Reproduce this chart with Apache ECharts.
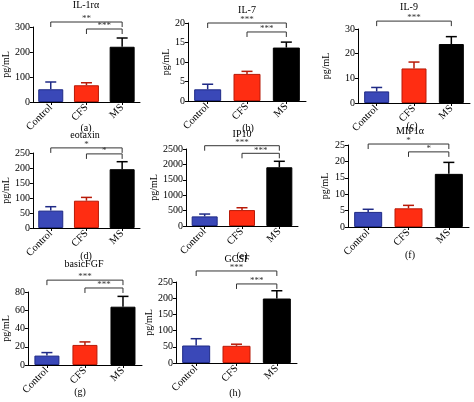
<!DOCTYPE html>
<html><head><meta charset="utf-8">
<script src="https://cdn.jsdelivr.net/npm/echarts@6/dist/echarts.min.js"></script>
<style>html,body{margin:0;padding:0;background:#fff}#c{width:474px;height:402px}</style>
</head><body><div id="c"></div>
<script>
// ---------- data ----------
const categories = ['Control', 'CFS', 'MS'];
const panelTitles = ['IL-1rα', 'IL-7', 'IL-9', 'eotaxin', 'IP10', 'MIP1α', 'basicFGF', 'GCSF'];
const panelCaptions = ['(a)', '(b)', '(c)', '(d)', '(e)', '(f)', '(g)', '(h)'];
const yAxisName = 'pg/mL';
const yMax = [300, 20, 30, 250, 2500, 25, 80, 250];
const yInterval = [100, 5, 10, 50, 500, 5, 20, 50];
const controlMean = [51, 3.0, 4.7, 58, 312, 4.6, 10.3, 54];
const cfsMean = [67, 6.95, 14.0, 91, 517, 5.7, 22, 53];
const msMean = [221, 13.7, 23.9, 196, 1907, 16.2, 63.9, 199];
const controlUpper = [80, 4.3, 6.3, 71, 388, 5.4, 13.6, 75];
const cfsUpper = [77, 7.6, 16.6, 102, 593, 6.6, 25.3, 58];
const msUpper = [256, 15.1, 26.9, 221, 2101, 19.7, 75.2, 223];
// significance brackets: Control–MS (outer) and CFS–MS (inner), level in data units
const outerBracketLevel = [320, 20, 33.2, 267, 2607, 25.3, 93, 284];
const outerBracketStars = ['**', '***', '***', '*', '***', '*', '***', '***'];
const innerBracketLevel = [292, 17.7, null, 247, 2360, 22.9, 84.4, 244];
const innerBracketStars = ['***', '***', null, '*', '***', '*', '***', '***'];

// ---------- layout / style ----------
const gridBox = [ // left, top, width, height
  [32, 27, 108, 75], [188, 23, 118, 78], [358, 29, 112, 74],
  [31, 153, 109, 75], [186, 149, 112, 77], [348, 145, 121, 82],
  [24, 292, 118, 73], [176, 282, 121, 81]
];
const barWidthPx = [25, 27, 25, 25, 26, 28, 25, 28];
const nameGapPx = [19, 13, 27, 18, 21, 18, 11, 20];
const titlePos = [[86, 5], [247, 10], [409, 7], [85, 135], [242, 134], [410, 131], [84, 264], [237, 259]];
const captionPos = [[86, 128], [248, 128], [412, 126], [86, 256], [242, 256], [410, 255], [80, 392], [235, 393]];
const FONT = '"Liberation Serif", "DejaVu Serif", serif';
const fills = ['#3a48b8', '#ff2d12', '#000000'];
const borders = ['#1f2a86', '#b81a08', '#000000'];

const grid = [], xAxis = [], yAxis = [], series = [], graphic = [];

for (let p = 0; p < 8; p++) {
  const g = gridBox[p];
  grid.push({ left: g[0], top: g[1], width: g[2], height: g[3], containLabel: false });
  xAxis.push({
    type: 'category', gridIndex: p, data: categories,
    axisLine: { lineStyle: { color: '#000', width: 1 } },
    axisTick: { show: true, alignWithLabel: true, length: 3, lineStyle: { color: '#000' } },
    axisLabel: { rotate: 45, interval: 0, fontSize: 10.5, fontFamily: FONT, color: '#000', margin: 4 }
  });
  yAxis.push({
    type: 'value', gridIndex: p, min: 0, max: yMax[p], interval: yInterval[p],
    axisLine: { show: true, lineStyle: { color: '#000', width: 1 } },
    axisTick: { show: true, length: 3, lineStyle: { color: '#000' } },
    splitLine: { show: false },
    axisLabel: { fontSize: 10, fontFamily: FONT, color: '#000', margin: 3, formatter: v => String(v) },
    name: yAxisName, nameLocation: 'middle', nameRotate: 90, nameGap: nameGapPx[p],
    nameTextStyle: { fontSize: 10, fontFamily: FONT, color: '#000' }
  });
  const means = [controlMean[p], cfsMean[p], msMean[p]];
  const uppers = [controlUpper[p], cfsUpper[p], msUpper[p]];
  series.push({
    type: 'bar', xAxisIndex: p, yAxisIndex: p, barWidth: barWidthPx[p], silent: true,
    data: means.map((v, i) => ({ value: v, itemStyle: { color: fills[i], borderColor: borders[i], borderWidth: 1 } }))
  });
  series.push({
    type: 'custom', xAxisIndex: p, yAxisIndex: p, silent: true, z: 5,
    encode: { x: 0, y: [1, 2] },
    data: means.map((v, i) => [i, v, uppers[i]]),
    renderItem: function (params, api) {
      const i = api.value(0);
      const p0 = api.coord([i, api.value(1)]);
      const p1 = api.coord([i, api.value(2)]);
      const c = borders[i];
      return { type: 'group', children: [
        { type: 'line', shape: { x1: p0[0], y1: p0[1], x2: p1[0], y2: p1[1] }, style: { stroke: c, lineWidth: 1.5 } },
        { type: 'line', shape: { x1: p1[0] - 5.5, y1: p1[1], x2: p1[0] + 5.5, y2: p1[1] }, style: { stroke: c, lineWidth: 1.5 } }
      ] };
    }
  });
  const br = [[0, 2, outerBracketLevel[p]]];
  const brStars = [outerBracketStars[p]];
  if (innerBracketLevel[p] != null) { br.push([1, 2, innerBracketLevel[p]]); brStars.push(innerBracketStars[p]); }
  series.push({
    type: 'custom', xAxisIndex: p, yAxisIndex: p, silent: true, clip: false, z: 6,
    encode: { x: [0, 1], y: 2 },
    data: br,
    renderItem: function (params, api) {
      const a = api.coord([api.value(0), api.value(2)]);
      const b = api.coord([api.value(1), api.value(2)]);
      const leg = 5;
      return { type: 'group', children: [
        { type: 'polyline', shape: { points: [[a[0], a[1] + leg], [a[0], a[1]], [b[0], b[1]], [b[0], b[1] + leg]] },
          style: { stroke: '#333', lineWidth: 1, fill: null } },
        { type: 'text', x: (a[0] + b[0]) / 2, y: a[1] - 3,
          style: { text: brStars[params.dataIndex], fill: '#333', font: '9px ' + FONT, textAlign: 'center', textVerticalAlign: 'middle' } }
      ] };
    }
  });
  graphic.push({ type: 'text', x: titlePos[p][0], y: titlePos[p][1], silent: true,
    style: { text: panelTitles[p], fill: '#000', font: '10px ' + FONT, textAlign: 'center', textVerticalAlign: 'middle' } });
  graphic.push({ type: 'text', x: captionPos[p][0], y: captionPos[p][1], silent: true,
    style: { text: panelCaptions[p], fill: '#000', font: '10px ' + FONT, textAlign: 'center', textVerticalAlign: 'middle' } });
}

const chart = echarts.init(document.getElementById('c'), null, { renderer: 'canvas' });
chart.setOption({ animation: false, backgroundColor: '#fff', grid, xAxis, yAxis, series, graphic });
</script></body></html>
